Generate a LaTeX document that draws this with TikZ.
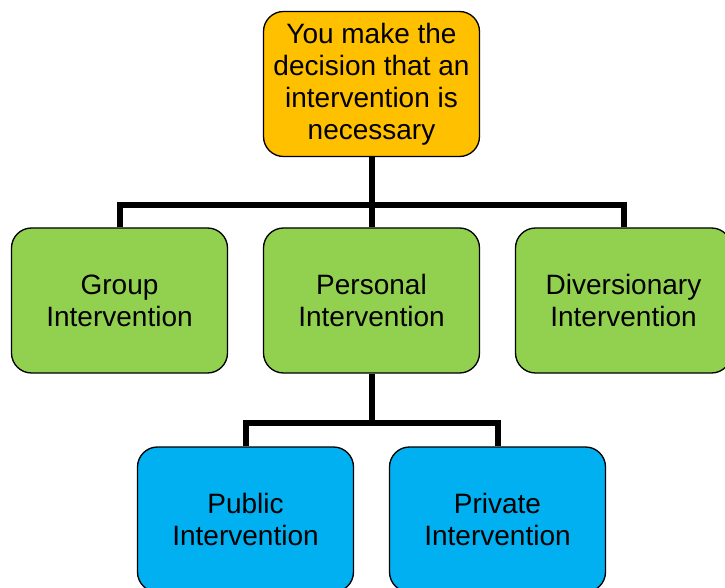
\documentclass[tikz,border=0pt]{standalone}
\usepackage{fontspec}
\setmainfont{Liberation Sans}
\usepackage{tikz}
\definecolor{corange}{RGB}{255,192,0}
\definecolor{cgreen}{RGB}{146,208,80}
\definecolor{cblue}{RGB}{0,176,240}

\begin{document}
\begin{tikzpicture}[
      x=0.75pt, y=-0.75pt,
      box/.style={draw=black, rounded corners=15pt, minimum width=162pt, minimum height=108.75pt,
                  line width=1pt, align=center, inner sep=4pt,
                  font=\fontsize{21}{24}\selectfont},
      link/.style={line width=4.5pt, black}
    ]
    \clip (0,0) rectangle (725,588);
    \node[box, fill=corange] (decide) at (371.5,84) {You make the\\decision that an\\intervention is\\necessary};
    \node[box, fill=cgreen] (group) at (119.5,300.5) {Group\\Intervention};
    \node[box, fill=cgreen] (personal) at (371.5,300.5) {Personal\\Intervention};
    \node[box, fill=cgreen] (divers) at (623.5,300.5) {Diversionary\\Intervention};
    \node[box, fill=cblue] (public) at (245.5,519.5) {Public\\Intervention};
    \node[box, fill=cblue] (private) at (497.5,519.5) {Private\\Intervention};
    % tree lines
    \draw[link] (decide.south) -- (personal.north);
    \draw[link] (decide.south) -- ++(0,48) -| (group.north);
    \draw[link] (decide.south) -- ++(0,48) -| (divers.north);
    \draw[link] (personal.south) -- ++(0,49) -| (public.north);
    \draw[link] (personal.south) -- ++(0,49) -| (private.north);
  \end{tikzpicture}
\end{document}
